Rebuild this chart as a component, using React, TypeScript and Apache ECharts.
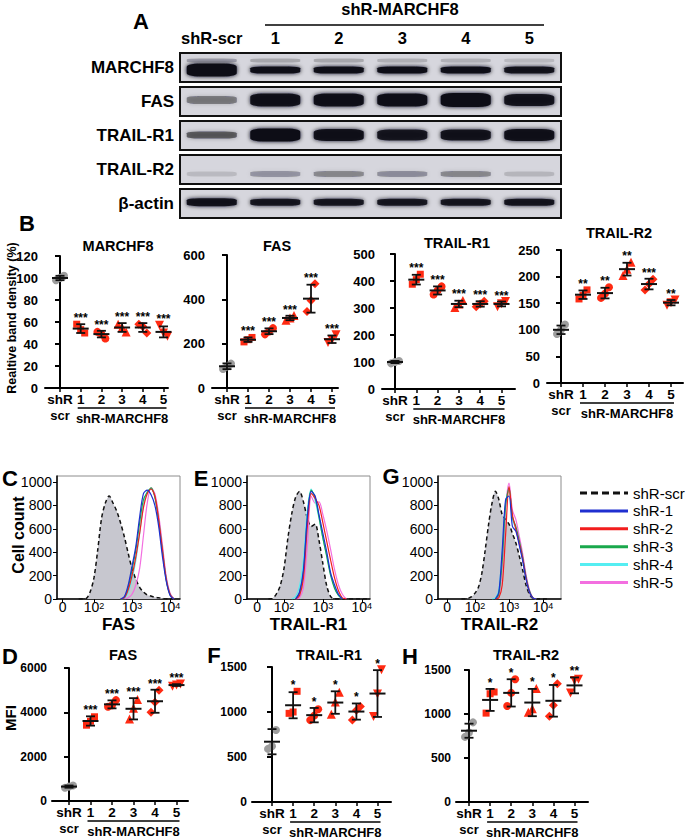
import React, { useEffect, useRef } from "react";
import * as echarts from "echarts";

const FONT = "'Liberation Sans', Arial, Helvetica, sans-serif";

// ---------------- Panel A: western blot (relative band darkness 0..1) ----------------
const laneLabels = ["shR-scr", "1", "2", "3", "4", "5"];
const blotRows = ["MARCHF8", "FAS", "TRAIL-R1", "TRAIL-R2", "β-actin"];
const blotMarchf8 = [1.0, 0.97, 0.97, 0.98, 0.97, 0.93];
const blotMarchf8Upper = [0.25, 0.2, 0.2, 0.17, 0.16, 0.13];
const blotFas = [0.42, 0.95, 0.96, 0.97, 1.0, 0.92];
const blotTrailR1 = [0.55, 1.0, 0.95, 0.9, 0.93, 0.95];
const blotTrailR2 = [0.12, 0.28, 0.36, 0.3, 0.36, 0.14];
const blotActin = [0.95, 0.9, 0.9, 0.9, 0.9, 0.92];

// ---------------- Panel B: relative band density (%) ----------------
const groupLabels = ["shR", "1", "2", "3", "4", "5"];

const bMarchf8Reps = [[98, 100, 102], [58, 53, 50], [51, 49, 45], [58, 55, 51], [58, 56, 50], [57, 50, 47]];
const bMarchf8Mean = [100, 54, 49, 55, 55, 51];
const bMarchf8Sd = [2, 4, 3, 4, 4, 5];
const bMarchf8Stars = ["", "***", "***", "***", "***", "***"];

const bFasReps = [[86, 97, 110], [208, 218, 228], [242, 255, 270], [306, 316, 327], [345, 395, 470], [205, 218, 240]];
const bFasMean = [98, 218, 256, 316, 403, 220];
const bFasSd = [13, 10, 13, 10, 63, 17];
const bFasStars = ["", "***", "***", "***", "***", "***"];

const bTr1Reps = [[95, 100, 104], [388, 405, 425], [350, 365, 380], [302, 315, 328], [305, 315, 325], [305, 316, 324]];
const bTr1Mean = [100, 405, 365, 315, 315, 315];
const bTr1Sd = [4, 18, 15, 12, 10, 9];
const bTr1Stars = ["", "***", "***", "***", "***", "***"];

const bTr2Reps = [[92, 100, 110], [158, 165, 175], [160, 168, 180], [202, 214, 227], [175, 186, 195], [146, 151, 156]];
const bTr2Mean = [100, 166, 169, 214, 186, 151];
const bTr2Sd = [8, 8, 10, 12, 10, 5];
const bTr2Stars = ["", "**", "**", "**", "***", "**"];

// ---------------- Panels D, F, H: MFI ----------------
const dFasReps = [[600, 650, 700], [3420, 3600, 3800], [4250, 4320, 4550], [3700, 4180, 4580], [4000, 4450, 5000], [5180, 5230, 5280]];
const dFasMean = [650, 3610, 4360, 4160, 4500, 5230];
const dFasSd = [50, 210, 180, 480, 520, 40];
const dFasStars = ["", "***", "***", "***", "***", "***"];

const fTr1Reps = [[590, 620, 800], [985, 1000, 1230], [910, 960, 1030], [975, 1110, 1220], [910, 1020, 1060], [950, 1200, 1470]];
const fTr1Mean = [670, 1075, 965, 1105, 1005, 1205];
const fTr1Sd = [140, 145, 80, 125, 90, 260];
const fTr1Stars = ["", "*", "*", "*", "*", "*"];

const hTr2Reps = [[740, 790, 905], [1010, 1230, 1250], [1090, 1240, 1395], [1020, 1060, 1290], [975, 1100, 1345], [1240, 1380, 1395]];
const hTr2Mean = [810, 1160, 1240, 1130, 1150, 1325];
const hTr2Sd = [80, 125, 155, 155, 180, 90];
const hTr2Stars = ["", "*", "*", "*", "*", "**"];

// ---------------- Panels C, E, G: flow histograms (cell count) ----------------
// x = log10 fluorescence (display decades)
const histX = [1.6, 1.7, 1.8, 1.9, 2.0, 2.1, 2.2, 2.3, 2.4, 2.5, 2.6, 2.7, 2.8, 2.9, 3.0, 3.1, 3.2, 3.3, 3.4, 3.5, 3.6, 3.7, 3.8, 3.9, 4.0, 4.1, 4.2];
const legendNames = ["shR-scr", "shR-1", "shR-2", "shR-3", "shR-4", "shR-5"];

const cScr = [0, 0, 5, 60, 180, 420, 690, 820, 880, 820, 750, 650, 530, 390, 260, 170, 100, 60, 35, 25, 15, 10, 5, 0, 0, 0, 0];
const cSh1 = [0, 0, 0, 0, 0, 0, 0, 0, 0, 0, 0, 0, 20, 120, 280, 450, 700, 900, 930, 890, 800, 620, 360, 150, 30, 0, 0];
const cSh2 = [0, 0, 0, 0, 0, 0, 0, 0, 0, 0, 0, 0, 10, 80, 200, 360, 560, 780, 900, 940, 880, 680, 420, 170, 40, 0, 0];
const cSh3 = [0, 0, 0, 0, 0, 0, 0, 0, 0, 0, 0, 0, 15, 100, 250, 420, 650, 850, 910, 950, 870, 660, 400, 160, 35, 0, 0];
const cSh4 = [0, 0, 0, 0, 0, 0, 0, 0, 0, 0, 0, 0, 5, 60, 170, 330, 560, 800, 920, 940, 870, 680, 420, 170, 40, 0, 0];
const cSh5 = [0, 0, 0, 0, 0, 0, 0, 0, 0, 0, 0, 0, 0, 10, 40, 120, 260, 540, 820, 950, 900, 720, 460, 190, 50, 0, 0];

const eScr = [0, 5, 40, 110, 260, 520, 730, 870, 920, 830, 690, 620, 640, 500, 300, 110, 20, 0, 0, 0, 0, 0, 0, 0, 0, 0, 0];
const eSh1 = [0, 0, 0, 0, 0, 0, 0, 0, 60, 250, 700, 920, 880, 720, 560, 400, 220, 120, 40, 0, 0, 0, 0, 0, 0, 0, 0];
const eSh2 = [0, 0, 0, 0, 0, 0, 0, 0, 30, 180, 620, 900, 860, 800, 650, 490, 330, 180, 70, 10, 0, 0, 0, 0, 0, 0, 0];
const eSh3 = [0, 0, 0, 0, 0, 0, 0, 0, 50, 230, 690, 930, 870, 700, 520, 360, 200, 90, 30, 0, 0, 0, 0, 0, 0, 0, 0];
const eSh4 = [0, 0, 0, 0, 0, 0, 0, 20, 110, 330, 760, 940, 840, 690, 520, 370, 210, 100, 30, 0, 0, 0, 0, 0, 0, 0, 0];
const eSh5 = [0, 0, 0, 0, 0, 0, 0, 0, 10, 100, 450, 880, 820, 830, 720, 580, 420, 250, 120, 40, 0, 0, 0, 0, 0, 0, 0];

const gScr = [0, 0, 5, 20, 50, 100, 220, 420, 640, 820, 920, 850, 720, 680, 640, 560, 480, 370, 250, 120, 40, 5, 0, 0, 0, 0, 0];
const gSh1 = [0, 0, 0, 0, 0, 0, 0, 0, 0, 0, 0, 60, 420, 850, 880, 620, 580, 460, 330, 170, 60, 10, 0, 0, 0, 0, 0];
const gSh2 = [0, 0, 0, 0, 0, 0, 0, 0, 0, 0, 0, 10, 120, 550, 960, 720, 600, 480, 350, 180, 60, 10, 0, 0, 0, 0, 0];
const gSh3 = [0, 0, 0, 0, 0, 0, 0, 0, 0, 0, 0, 40, 330, 800, 950, 700, 620, 500, 360, 190, 70, 10, 0, 0, 0, 0, 0];
const gSh4 = [0, 0, 0, 0, 0, 0, 0, 0, 0, 0, 10, 80, 400, 830, 930, 680, 600, 480, 340, 180, 60, 10, 0, 0, 0, 0, 0];
const gSh5 = [0, 0, 0, 0, 0, 0, 0, 0, 0, 0, 0, 30, 280, 780, 990, 760, 680, 540, 390, 210, 80, 15, 0, 0, 0, 0, 0];

// ---------------- styles / layout ----------------
const BOLD = { fontFamily: FONT, fontWeight: "bold" as const, color: "#000" };
const RED = "#ff2a12";
const GRAY = "#9d9d9d";
const SCR_COLOR = "#111111";
const LINE_COLORS = ["#1f2fd0", "#f21d1d", "#1aa84c", "#55eef2", "#f36fe0"];
const SYM = ["circle", "rect", "circle", "triangle", "diamond", "triangle"];
const SYM_ROT = [0, 0, 0, 0, 0, 180];
const SYM_SIZE = [8, 7, 8, 9, 9, 9];

const BLOT = {
  left: 180, width: 381, height: 29, tops: [53, 87, 121, 155, 189], bandW: 50, blur: 4,
  thick: [[13, 7, 7, 7, 7, 7], [8, 13, 13, 13, 14, 12], [7, 13, 12, 11, 11, 12], [5, 6, 6, 6, 6, 5], [8, 7, 7, 7, 7, 7]],
  offset: [2.5, -1.5, -0.5, 4.5, -1.3],
};

const dotPlots = [
  { title: "MARCHF8", reps: bMarchf8Reps, mean: bMarchf8Mean, sd: bMarchf8Sd, stars: bMarchf8Stars, yMax: 120, interval: 20,
    left: 45, right: 168, c0: 60, sp: 20.7, top: 256, bottom: 388, tx: 118, ty: 246, tick: 13, margin: 7 },
  { title: "FAS", reps: bFasReps, mean: bFasMean, sd: bFasSd, stars: bFasStars, yMax: 600, interval: 200,
    left: 212, right: 338, c0: 227, sp: 21, top: 255, bottom: 388, tx: 277, ty: 246, tick: 13, margin: 7 },
  { title: "TRAIL-R1", reps: bTr1Reps, mean: bTr1Mean, sd: bTr1Sd, stars: bTr1Stars, yMax: 500, interval: 100,
    left: 382, right: 515, c0: 395, sp: 21.3, top: 254, bottom: 389, tx: 457, ty: 243, tick: 13, margin: 7 },
  { title: "TRAIL-R2", reps: bTr2Reps, mean: bTr2Mean, sd: bTr2Sd, stars: bTr2Stars, yMax: 250, interval: 50,
    left: 547, right: 683, c0: 561, sp: 22, top: 250, bottom: 383, tx: 619, ty: 233, tick: 13, margin: 7 },
  { title: "FAS", reps: dFasReps, mean: dFasMean, sd: dFasSd, stars: dFasStars, yMax: 6000, interval: 2000,
    left: 52, right: 188, c0: 69, sp: 21.5, top: 668, bottom: 801, tx: 123, ty: 655, tick: 12, margin: 5 },
  { title: "TRAIL-R1", reps: fTr1Reps, mean: fTr1Mean, sd: fTr1Sd, stars: fTr1Stars, yMax: 1500, interval: 500,
    left: 252, right: 391, c0: 272, sp: 21.1, top: 667, bottom: 802, tx: 329, ty: 655, tick: 12, margin: 5 },
  { title: "TRAIL-R2", reps: hTr2Reps, mean: hTr2Mean, sd: hTr2Sd, stars: hTr2Stars, yMax: 1500, interval: 500,
    left: 456, right: 588, c0: 469, sp: 21.1, top: 670, bottom: 802, tx: 526, ty: 655, tick: 12, margin: 5 },
];

const hists = [
  { label: "FAS", scr: cScr, lines: [cSh1, cSh2, cSh3, cSh4, cSh5], left: 57, right: 180, xMin: 1.03, xMax: 4.26, zero: 1.18 },
  { label: "TRAIL-R1", scr: eScr, lines: [eSh1, eSh2, eSh3, eSh4, eSh5], left: 247, right: 370, xMin: 1.05, xMax: 4.21, zero: 1.31 },
  { label: "TRAIL-R2", scr: gScr, lines: [gSh1, gSh2, gSh3, gSh4, gSh5], left: 438, right: 561, xMin: 0.91, xMax: 4.53, zero: 1.18 },
];
const HIST = { top: 476, bottom: 599, yMax: 1051, nameY: 624 };
const LEGEND = { x1: 580, x2: 628, tx: 633, y0: 493, dy: 17.9 };

function zipTrim(ys: number[], trim: boolean) {
  const pts = histX.map((x, i) => [x, ys[i]]);
  if (!trim) return pts;
  let a = ys.findIndex((v) => v > 0);
  let b = ys.length - 1;
  while (b > 0 && ys[b] === 0) b--;
  a = Math.max(0, a - 1);
  b = Math.min(ys.length - 1, b + 1);
  return pts.slice(a, b + 1);
}

function txt(text: string, x: number, y: number, size: number, extra: any = {}) {
  return {
    type: "text", x, y, silent: true,
    style: { text, fontSize: size, fontFamily: FONT, fontWeight: "bold", fill: "#000", align: "center", verticalAlign: "middle", ...extra },
  };
}

function buildOption() {
  const grid: any[] = [];
  const xAxis: any[] = [];
  const yAxis: any[] = [];
  const series: any[] = [];
  const dotAxisIdx: number[] = [];

  // ---- blot ----
  const blotData = [blotMarchf8, blotFas, blotTrailR1, blotTrailR2, blotActin];
  blotRows.forEach((name, r) => {
    const idx = grid.length;
    grid.push({
      left: BLOT.left, top: BLOT.tops[r], width: BLOT.width, height: BLOT.height, show: true,
      backgroundColor: "#d6d6dd", borderColor: "#111", borderWidth: 2, containLabel: false, outerBoundsMode: "none",
    });
    xAxis.push({
      type: "category", gridIndex: idx, data: laneLabels, position: "top",
      axisLine: { show: false }, axisTick: { show: false }, splitLine: { show: false },
      axisLabel: { show: r === 0, interval: 0, margin: 7, fontSize: 16.5, ...BOLD },
    });
    yAxis.push({
      type: "category", gridIndex: idx, data: [name],
      axisLine: { show: false }, axisTick: { show: false }, splitLine: { show: false },
      axisLabel: { margin: 6, fontSize: 17, ...BOLD },
    });
    const mk = (vals: number[], thick: number[], off: number) =>
      vals.map((v, i) => ({
        value: [i, 0],
        symbolSize: [BLOT.bandW, thick[i]],
        symbolOffset: [0, off],
        itemStyle: { color: `rgba(16,16,24,${v})`, opacity: 1, shadowBlur: BLOT.blur, shadowColor: `rgba(16,16,24,${v})` },
      }));
    series.push({
      type: "scatter", xAxisIndex: idx, yAxisIndex: idx, symbol: "roundRect", silent: true,
      data: mk(blotData[r], BLOT.thick[r], BLOT.offset[r]),
    });
    if (r === 0) {
      series.push({
        type: "scatter", xAxisIndex: idx, yAxisIndex: idx, symbol: "roundRect", silent: true,
        data: mk(blotMarchf8Upper, [4, 4, 4, 4, 4, 4], -7),
      });
    }
  });

  // ---- dot plots ----
  dotPlots.forEach((p) => {
    const idx = grid.length;
    dotAxisIdx.push(idx);
    const xMin = -(p.c0 - p.left) / p.sp;
    const xMax = (p.right - p.c0) / p.sp;
    grid.push({ left: p.left, top: p.top, width: p.right - p.left, height: p.bottom - p.top, containLabel: false, outerBoundsMode: "none" });
    xAxis.push({
      type: "value", gridIndex: idx, min: xMin, max: xMax,
      axisLine: { show: true, onZero: false, lineStyle: { color: "#000", width: 2 } },
      axisTick: { show: true, customValues: [0, 1, 2, 3, 4, 5], length: 4, lineStyle: { color: "#000", width: 1.5 } },
      axisLabel: { customValues: [0, 1, 2, 3, 4, 5], formatter: (v: number) => groupLabels[Math.round(v)], margin: 4, fontSize: 13.5, ...BOLD },
      splitLine: { show: false },
    });
    yAxis.push({
      type: "value", gridIndex: idx, min: 0, max: p.yMax, interval: p.interval,
      axisLine: { show: true, lineStyle: { color: "#000", width: 2 } },
      axisTick: { show: true, length: 5, lineStyle: { color: "#000", width: 2 } },
      axisLabel: { margin: p.margin, fontSize: p.tick, formatter: (v: number) => String(v), ...BOLD },
      splitLine: { show: false },
    });
    const pts: any[] = [];
    p.reps.forEach((g, i) =>
      g.forEach((v, j) =>
        pts.push({
          value: [i, v], symbol: SYM[i], symbolRotate: SYM_ROT[i], symbolSize: SYM_SIZE[i],
          symbolOffset: [(j - 1) * 4, 0], itemStyle: { color: i === 0 ? GRAY : RED, opacity: 1 },
        })
      )
    );
    series.push({ type: "scatter", xAxisIndex: idx, yAxisIndex: idx, data: pts, silent: true, z: 2, itemStyle: { opacity: 1 } });
    series.push({
      type: "custom", xAxisIndex: idx, yAxisIndex: idx, silent: true, z: 3,
      encode: { x: 0, y: 1 },
      data: p.mean.map((m, i) => [i, m, p.sd[i], Math.max(m + p.sd[i], ...p.reps[i])]),
      renderItem: (params: any, api: any) => {
        const x = api.value(0), m = api.value(1), s = api.value(2), top = api.value(3);
        const pm = api.coord([x, m]);
        const pt = api.coord([x, m + s]);
        const pb = api.coord([x, m - s]);
        const ps = api.coord([x, top]);
        const st = { stroke: "#111", lineWidth: 1.8 };
        const children: any[] = [
          { type: "line", shape: { x1: pm[0] - 8, y1: pm[1], x2: pm[0] + 8, y2: pm[1] }, style: { ...st, lineWidth: 2 } },
          { type: "line", shape: { x1: pt[0], y1: pt[1], x2: pb[0], y2: pb[1] }, style: st },
          { type: "line", shape: { x1: pt[0] - 4.5, y1: pt[1], x2: pt[0] + 4.5, y2: pt[1] }, style: st },
          { type: "line", shape: { x1: pb[0] - 4.5, y1: pb[1], x2: pb[0] + 4.5, y2: pb[1] }, style: st },
        ];
        const star = p.stars[params.dataIndex];
        if (star) {
          children.push({
            type: "text", x: ps[0], y: ps[1] - 6,
            style: { text: star, fontSize: 12, fontFamily: FONT, fontWeight: "bold", fill: "#000", align: "center", verticalAlign: "middle" },
          });
        }
        return { type: "group", children };
      },
    });
  });

  // ---- histograms ----
  hists.forEach((h) => {
    const idx = grid.length;
    grid.push({
      left: h.left, top: HIST.top, width: h.right - h.left, height: HIST.bottom - HIST.top, show: true,
      borderColor: "#8c8c8c", borderWidth: 1, backgroundColor: "transparent", containLabel: false, outerBoundsMode: "none",
    });
    xAxis.push({
      type: "value", gridIndex: idx, min: h.xMin, max: h.xMax,
      axisLine: { show: true, onZero: false, lineStyle: { color: "#000", width: 1.5 } },
      axisTick: { show: true, customValues: [h.zero, 2, 3, 4], length: 4, lineStyle: { color: "#000", width: 1 } },
      axisLabel: {
        customValues: [h.zero, 2, 3, 4], margin: 2, color: "#000", fontFamily: FONT, lineHeight: 13,
        formatter: (v: number) => (Math.abs(v - h.zero) < 0.01 ? "{b|0}" : `{b|10}{s|${Math.round(v)}}`),
        rich: {
          b: { fontSize: 14, fontFamily: FONT, color: "#000", lineHeight: 13, verticalAlign: "bottom" },
          s: { fontSize: 9, fontFamily: FONT, color: "#000", lineHeight: 13, verticalAlign: "top" },
        },
      },
      splitLine: { show: false },
    });
    yAxis.push({
      type: "value", gridIndex: idx, min: 0, max: HIST.yMax,
      axisLine: { show: true, lineStyle: { color: "#000", width: 1.5 } },
      axisTick: { show: true, customValues: [0, 200, 400, 600, 800, 1000], length: 4, lineStyle: { color: "#000", width: 1 } },
      axisLabel: { customValues: [0, 200, 400, 600, 800, 1000], formatter: (v: number) => String(v), margin: 5, fontSize: 14, fontFamily: FONT, color: "#000" },
      splitLine: { show: false },
    });
    series.push({
      type: "line", name: legendNames[0], xAxisIndex: idx, yAxisIndex: idx, data: zipTrim(h.scr, false),
      smooth: 0.3, symbol: "none", silent: true, z: 1,
      lineStyle: { color: SCR_COLOR, width: 1.5, type: [4, 3] }, itemStyle: { color: SCR_COLOR },
      areaStyle: { color: "#c7c7cf", opacity: 1 },
    });
    h.lines.forEach((ys, k) => {
      series.push({
        type: "line", name: legendNames[k + 1], xAxisIndex: idx, yAxisIndex: idx, data: zipTrim(ys, true),
        smooth: 0.3, symbol: "none", silent: true, z: 2 + (4 - k) * 0.01,
        lineStyle: { color: LINE_COLORS[k], width: 1.2 }, itemStyle: { color: LINE_COLORS[k] },
      });
    });
  });

  return {
    option: { animation: false, backgroundColor: "#ffffff", grid, xAxis, yAxis, series },
    dotAxisIdx,
  };
}

function staticGraphics() {
  const g: any[] = [];
  g.push(txt("A", 141, 21, 22));
  g.push(txt("shR-MARCHF8", 400, 9, 16.5));
  g.push({ type: "line", silent: true, shape: { x1: 265, y1: 25, x2: 544, y2: 25 }, style: { stroke: "#000", lineWidth: 1.5 } });
  g.push(txt("B", 27, 223, 22));
  g.push(txt("C", 10, 478, 22));
  g.push(txt("E", 201, 478, 22));
  g.push(txt("G", 391, 476, 22));
  g.push(txt("D", 10, 656, 22));
  g.push(txt("F", 214, 655, 22));
  g.push(txt("H", 410, 656, 22));
  dotPlots.forEach((p) => g.push(txt(p.title, p.tx, p.ty, 14.5)));
  hists.forEach((h) => g.push(txt(h.label, (h.left + h.right) / 2, HIST.nameY, 17)));
  g.push({ ...txt("Realtive band density (%)", 12, 318, 12.5), rotation: Math.PI / 2 });
  g.push({ ...txt("Cell count", 18, 535, 16), rotation: Math.PI / 2 });
  g.push({ ...txt("MFI", 10, 718, 15), rotation: Math.PI / 2 });
  // legend of the histograms
  const colors = [SCR_COLOR, ...LINE_COLORS];
  legendNames.forEach((name, i) => {
    const y = LEGEND.y0 + i * LEGEND.dy;
    g.push({
      type: "line", silent: true, shape: { x1: LEGEND.x1, y1: y, x2: LEGEND.x2, y2: y },
      style: { stroke: colors[i], lineWidth: 3, lineDash: i === 0 ? [7, 4] : null },
    });
    g.push(txt(name, LEGEND.tx, y, 15, { align: "left", fontWeight: "normal" }));
  });
  return g;
}

export default function App() {
  const ref = useRef<HTMLDivElement>(null);
  useEffect(() => {
    if (!ref.current) return;
    const chart = echarts.init(ref.current, null, { renderer: "svg", width: 686, height: 839 });
    const { option, dotAxisIdx } = buildOption();
    chart.setOption(option as any);
    const brackets: any[] = [];
    dotAxisIdx.forEach((ai) => {
      const finder = { xAxisIndex: ai, yAxisIndex: ai };
      const p0 = chart.convertToPixel(finder as any, [0, 0]) as number[];
      const p1 = chart.convertToPixel(finder as any, [1, 0]) as number[];
      const p5 = chart.convertToPixel(finder as any, [5, 0]) as number[];
      if (!p0 || !p1 || !p5) return;
      const y0 = p0[1];
      brackets.push({ type: "line", silent: true, shape: { x1: p1[0] - 3, y1: y0 + 20, x2: p5[0] + 3, y2: y0 + 20 }, style: { stroke: "#000", lineWidth: 1.5 } });
      brackets.push(txt("scr", p0[0], y0 + 27, 13));
      brackets.push(txt("shR-MARCHF8", (p1[0] + p5[0]) / 2, y0 + 30, 13));
    });
    chart.setOption({ graphic: [...staticGraphics(), ...brackets] } as any);
    return () => chart.dispose();
  }, []);
  return <div ref={ref} style={{ position: "absolute", left: 0, top: 0, width: 686, height: 839, background: "#fff" }} />;
}
